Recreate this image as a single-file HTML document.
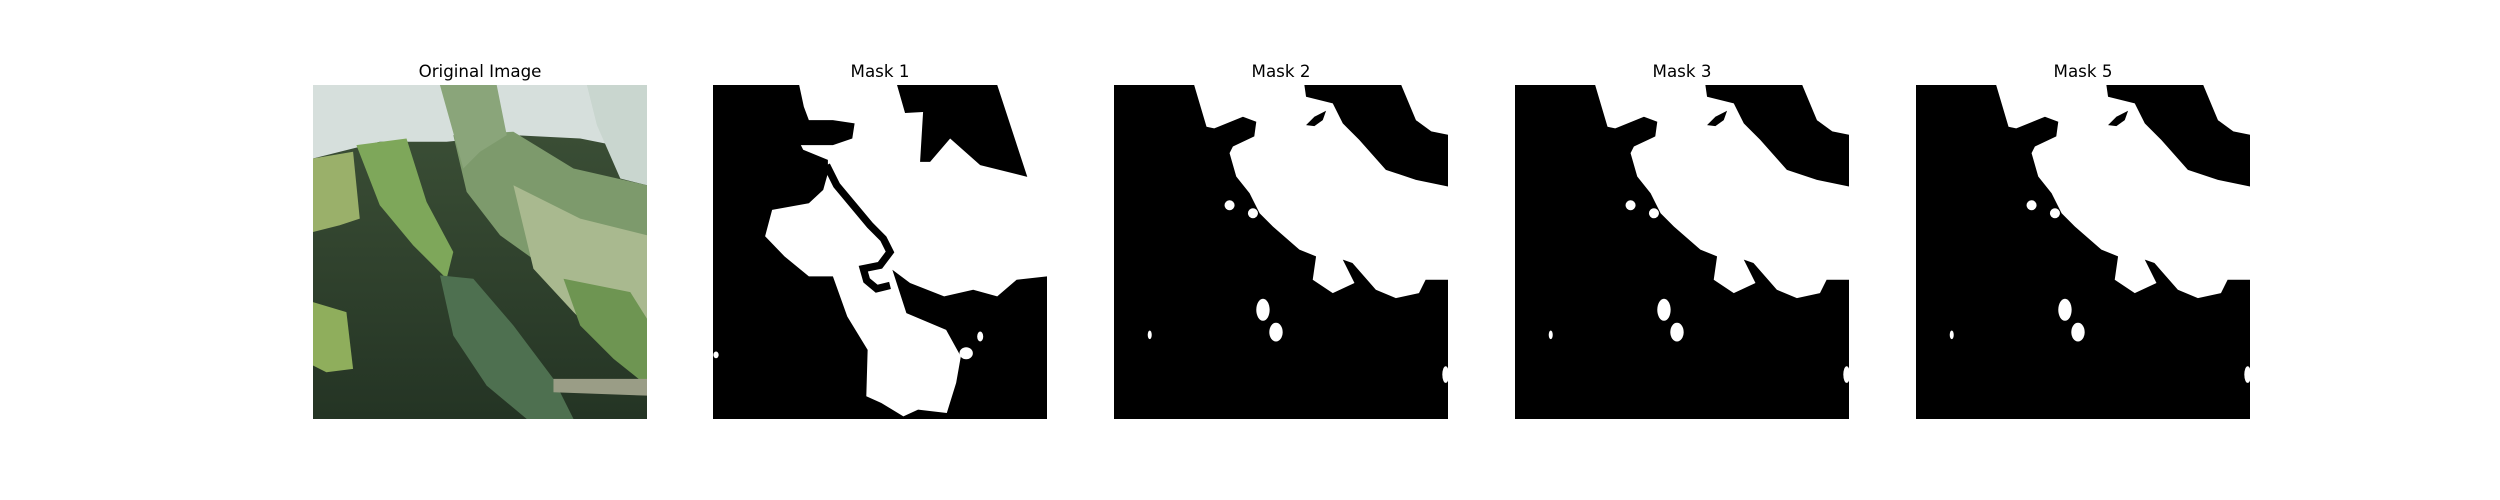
<!DOCTYPE html>
<html><head><meta charset="utf-8"><style>
body{margin:0;background:#fff;width:2500px;height:500px;position:relative;overflow:hidden;font-family:"DejaVu Sans","Liberation Sans",sans-serif}
.t{position:absolute;top:61px;width:334px;text-align:center;font-size:16.7px;color:#000}
svg.p{position:absolute;top:85px;width:334px;height:334px}
</style></head><body>
<div class="t" style="left:313px">Original Image</div>
<div class="t" style="left:713px">Mask 1</div>
<div class="t" style="left:1114px">Mask 2</div>
<div class="t" style="left:1515px">Mask 3</div>
<div class="t" style="left:1916px">Mask 5</div>

<svg class="p" style="left:313px" viewBox="0 0 100 100" preserveAspectRatio="none">
<defs><linearGradient id="bg" x1="0" y1="0" x2="0" y2="1"><stop offset="0" stop-color="#3e5238"/><stop offset="1" stop-color="#243424"/></linearGradient></defs>
<rect width="100" height="100" fill="url(#bg)"/>
<polygon points="0,0 100,0 100,20 80,16 60,15 40,17 20,17 0,22" fill="#d6dfdc"/>
<polygon points="82,0 100,0 100,30 92,28 85,12" fill="#c9d6cf"/>
<polygon points="0,22 12,20 14,40 8,42 0,44" fill="#9ab06a"/>
<polygon points="13,18 28,16 34,35 42,50 40,58 30,48 20,36" fill="#7ea75a"/>
<polygon points="42,15 60,14 78,25 100,30 100,70 90,68 80,62 70,55 56,45 46,32" fill="#7d9a6c"/>
<polygon points="60,30 80,40 100,45 100,72 88,78 78,68 66,55" fill="#a9b98f"/>
<polygon points="38,0 55,0 58,15 50,20 45,25" fill="#8aa57a"/>
<polygon points="38,57 48,58 60,72 72,88 78,100 64,100 52,90 42,75" fill="#4e7050"/>
<polygon points="0,65 10,68 12,85 4,86 0,84" fill="#8fae5c"/>
<polygon points="75,58 95,62 100,70 100,90 90,82 80,72" fill="#6e9552"/>
<polygon points="72,88 100,88 100,93 72,92" fill="#9a9d86"/>
</svg>

<svg class="p" style="left:713px" viewBox="0 0 100 100" preserveAspectRatio="none">
<rect width="100" height="100" fill="#000"/>
<polygon fill="#fff" points="25.8,0 100,0 100,57.3 90.9,58.3 85.1,63.3 77.9,61.3 69.2,63.3 59,59.3 53.7,55.3 57.9,68.3 69.8,73.3 74.2,81.3 72.8,89.2 70,98.2 61.4,97.2 57,99.2 50.4,95.2 45.9,93.2 46.3,79.3 40.2,69.3 35.9,57.3 28.7,57.3 21.4,51.3 15.6,45.3 17.7,37.4 28.7,35.4 33,31.4 34.4,26.4 34.4,22.4 27,19.4 26.3,18 35.9,18 41.7,16 42.4,11.5 35.9,10.5 28.7,10.5 27.2,6.5"/>
<polygon fill="#000" points="55.1,0 57.5,8.4 62.9,8.1 62,23 65,23 71,16 80,24 94.1,27.5 85.1,0"/>
<polyline fill="none" stroke="#000" stroke-width="2.2" points="34,24 37,30 42,36 47,42 51,46 53,50 50,54 45,55 46,58.5 49,61 53,60"/>
<ellipse cx="80" cy="75.3" rx="0.9" ry="1.5" fill="#fff"/>
<ellipse cx="75.8" cy="80.3" rx="2" ry="1.8" fill="#fff"/>
<ellipse cx="0.9" cy="80.8" rx="0.8" ry="1" fill="#fff"/>
</svg>

<svg class="p" style="left:1114px" viewBox="0 0 100 100" preserveAspectRatio="none">
<rect width="100" height="100" fill="#000"/>
<polygon fill="#fff" points="24,0 27.7,12.5 30,13 38.6,9.5 42.6,11 42,15.4 35.6,18.4 34.6,20.4 36.6,27.4 40.6,32.4 43.6,38.4 47.6,42.4 55.5,49.3 60.5,51.3 59.5,58.3 65.5,62.3 72,59.3 68.5,52.3 71.4,53.3 78.4,61.3 84.4,63.8 91.3,62.3 93.3,58.3 100,58.3 100,30.4 90.4,28.4 81.4,25.4 73.4,16.4 68.5,11.5 65.5,5.5 57.5,3.5 57,0"/>
<polygon fill="#fff" points="86,0 90.4,10.5 95,13.9 100,14.9 100,0"/>
<polygon fill="#000" points="57.5,12 60,9.5 63.5,7.7 62.5,10.5 60,12.3"/>
<circle cx="34.6" cy="36" r="1.5" fill="#fff"/>
<circle cx="41.6" cy="38.4" r="1.5" fill="#fff"/>
<ellipse cx="44.6" cy="67.3" rx="2" ry="3.3" fill="#fff"/>
<ellipse cx="48.5" cy="74" rx="2" ry="2.8" fill="#fff"/>
<ellipse cx="10.7" cy="74.8" rx="0.6" ry="1.3" fill="#fff"/>
<ellipse cx="99.3" cy="86.7" rx="1" ry="2.5" fill="#fff"/>
</svg>

<svg class="p" style="left:1515px" viewBox="0 0 100 100" preserveAspectRatio="none">
<rect width="100" height="100" fill="#000"/>
<polygon fill="#fff" points="24,0 27.7,12.5 30,13 38.6,9.5 42.6,11 42,15.4 35.6,18.4 34.6,20.4 36.6,27.4 40.6,32.4 43.6,38.4 47.6,42.4 55.5,49.3 60.5,51.3 59.5,58.3 65.5,62.3 72,59.3 68.5,52.3 71.4,53.3 78.4,61.3 84.4,63.8 91.3,62.3 93.3,58.3 100,58.3 100,30.4 90.4,28.4 81.4,25.4 73.4,16.4 68.5,11.5 65.5,5.5 57.5,3.5 57,0"/>
<polygon fill="#fff" points="86,0 90.4,10.5 95,13.9 100,14.9 100,0"/>
<polygon fill="#000" points="57.5,12 60,9.5 63.5,7.7 62.5,10.5 60,12.3"/>
<circle cx="34.6" cy="36" r="1.5" fill="#fff"/>
<circle cx="41.6" cy="38.4" r="1.5" fill="#fff"/>
<ellipse cx="44.6" cy="67.3" rx="2" ry="3.3" fill="#fff"/>
<ellipse cx="48.5" cy="74" rx="2" ry="2.8" fill="#fff"/>
<ellipse cx="10.7" cy="74.8" rx="0.6" ry="1.3" fill="#fff"/>
<ellipse cx="99.3" cy="86.7" rx="1" ry="2.5" fill="#fff"/>
</svg>

<svg class="p" style="left:1916px" viewBox="0 0 100 100" preserveAspectRatio="none">
<rect width="100" height="100" fill="#000"/>
<polygon fill="#fff" points="24,0 27.7,12.5 30,13 38.6,9.5 42.6,11 42,15.4 35.6,18.4 34.6,20.4 36.6,27.4 40.6,32.4 43.6,38.4 47.6,42.4 55.5,49.3 60.5,51.3 59.5,58.3 65.5,62.3 72,59.3 68.5,52.3 71.4,53.3 78.4,61.3 84.4,63.8 91.3,62.3 93.3,58.3 100,58.3 100,30.4 90.4,28.4 81.4,25.4 73.4,16.4 68.5,11.5 65.5,5.5 57.5,3.5 57,0"/>
<polygon fill="#fff" points="86,0 90.4,10.5 95,13.9 100,14.9 100,0"/>
<polygon fill="#000" points="57.5,12 60,9.5 63.5,7.7 62.5,10.5 60,12.3"/>
<circle cx="34.6" cy="36" r="1.5" fill="#fff"/>
<circle cx="41.6" cy="38.4" r="1.5" fill="#fff"/>
<ellipse cx="44.6" cy="67.3" rx="2" ry="3.3" fill="#fff"/>
<ellipse cx="48.5" cy="74" rx="2" ry="2.8" fill="#fff"/>
<ellipse cx="10.7" cy="74.8" rx="0.6" ry="1.3" fill="#fff"/>
<ellipse cx="99.3" cy="86.7" rx="1" ry="2.5" fill="#fff"/>
</svg>
</body></html>
